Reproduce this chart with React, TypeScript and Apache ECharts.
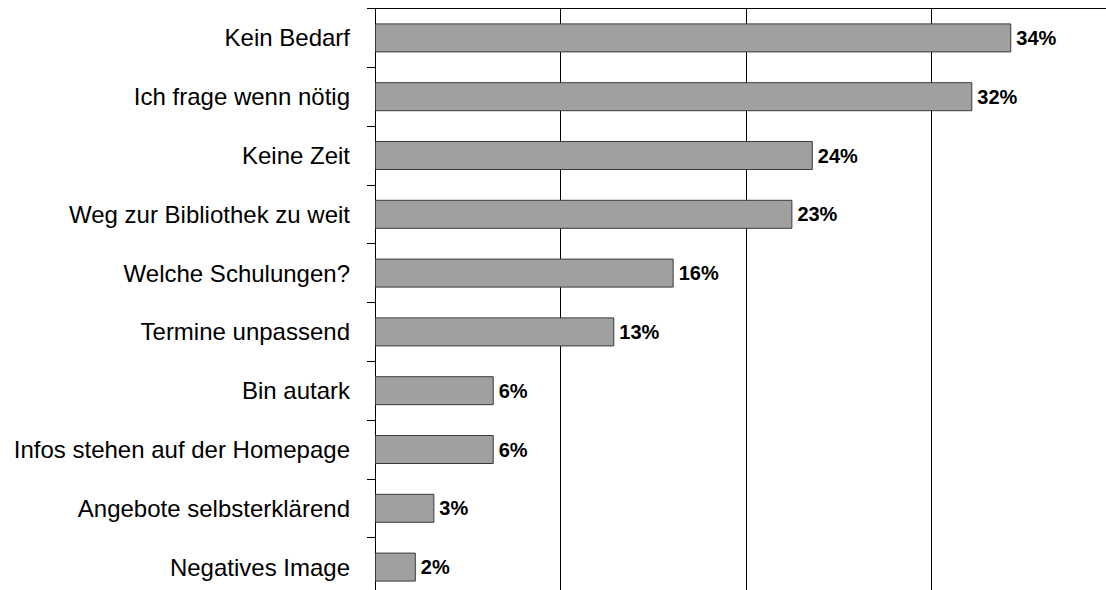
import React, { useEffect, useRef } from "react";
import * as echarts from "echarts";

const categories = [
  "Kein Bedarf",
  "Ich frage wenn nötig",
  "Keine Zeit",
  "Weg zur Bibliothek zu weit",
  "Welche Schulungen?",
  "Termine unpassend",
  "Bin autark",
  "Infos stehen auf der Homepage",
  "Angebote selbsterklärend",
  "Negatives Image",
];
const values = [34.3, 32.2, 23.6, 22.5, 16.1, 12.9, 6.4, 6.4, 3.2, 2.2];
const valueLabels = ["34%", "32%", "24%", "23%", "16%", "13%", "6%", "6%", "3%", "2%"];
const xTicks = { min: 0, max: 40, interval: 10 };

export default function App() {
  const ref = useRef<HTMLDivElement>(null);
  useEffect(() => {
    if (!ref.current) return;
    const chart = echarts.init(ref.current, undefined, { renderer: "svg" });
    const font = "'Liberation Sans', Arial, Helvetica, sans-serif";
    chart.setOption({
      animation: false,
      backgroundColor: "#ffffff",
      grid: {
        left: 375,
        top: 8.5,
        width: 742,
        height: 588,
        containLabel: false,
        outerBoundsMode: "none",
      },
      xAxis: {
        type: "value",
        position: "top",
        min: xTicks.min,
        max: xTicks.max,
        interval: xTicks.interval,
        axisLine: { show: true, lineStyle: { color: "#000", width: 1 } },
        axisTick: { show: false },
        axisLabel: { show: false },
        splitLine: { show: true, lineStyle: { color: "#000", width: 1 } },
      },
      yAxis: {
        type: "category",
        inverse: true,
        data: categories,
        axisLine: { show: true, lineStyle: { color: "#000", width: 1 } },
        axisTick: { show: true, length: 8, lineStyle: { color: "#000" } },
        axisLabel: {
          color: "#000",
          fontSize: 24,
          fontFamily: font,
          margin: 25,
        },
        splitLine: { show: false },
      },
      series: [
        {
          type: "bar",
          data: values,
          barWidth: 29,
          itemStyle: { color: "#a0a0a0", borderColor: "#3a3a3a", borderWidth: 1 },
          label: {
            show: true,
            position: "right",
            distance: 5,
            color: "#000",
            fontSize: 20,
            fontWeight: "bold",
            fontFamily: font,
            formatter: (p: any) => valueLabels[p.dataIndex],
          },
        },
      ],
    });
    return () => chart.dispose();
  }, []);
  return (
    <div
      style={{
        position: "absolute",
        left: 0,
        top: 0,
        width: 1106,
        height: 590,
        overflow: "hidden",
        background: "#fff",
      }}
    >
      <div ref={ref} style={{ width: 1125, height: 600 }} />
    </div>
  );
}
